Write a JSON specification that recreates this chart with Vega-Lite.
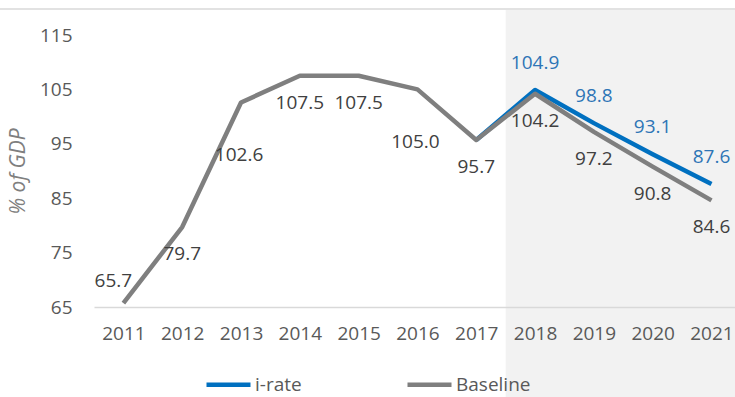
{
  "$schema": "https://vega.github.io/schema/vega-lite/v6.json",
  "width": 641,
  "height": 272,
  "autosize": {"type": "none"},
  "padding": {"left": 94, "top": 35, "right": 0, "bottom": 90},
  "background": "white",
  "config": {
    "font": "Open Sans",
    "view": {"stroke": null},
    "axisX": {"domainColor": "#d9d9d9", "domainWidth": 1.3, "ticks": false, "grid": false, "labelFontSize": 19, "labelColor": "#595959", "labelPadding": 17, "labelFlush": false},
    "axisY": {"domain": false, "ticks": false, "grid": false, "labelFontSize": 19, "labelColor": "#595959", "labelPadding": 22, "titleFontSize": 21, "titleFontStyle": "italic", "titleFontWeight": "normal", "titleColor": "#7f7f7f", "titlePadding": 11}
  },
  "datasets": {
    "series": [
      {"year": 2011, "series": "Baseline", "value": 65.7},
      {"year": 2012, "series": "Baseline", "value": 79.7},
      {"year": 2013, "series": "Baseline", "value": 102.6},
      {"year": 2014, "series": "Baseline", "value": 107.5},
      {"year": 2015, "series": "Baseline", "value": 107.5},
      {"year": 2016, "series": "Baseline", "value": 105.0},
      {"year": 2017, "series": "Baseline", "value": 95.7},
      {"year": 2018, "series": "Baseline", "value": 104.2},
      {"year": 2019, "series": "Baseline", "value": 97.2},
      {"year": 2020, "series": "Baseline", "value": 90.8},
      {"year": 2021, "series": "Baseline", "value": 84.6},
      {"year": 2017, "series": "i-rate", "value": 95.7},
      {"year": 2018, "series": "i-rate", "value": 104.9},
      {"year": 2019, "series": "i-rate", "value": 98.8},
      {"year": 2020, "series": "i-rate", "value": 93.1},
      {"year": 2021, "series": "i-rate", "value": 87.6}
    ],
    "shade": [{"year": 2017.5, "year_end": 2022, "value": 48, "value_end": 119.6}],
    "frame": [{"year": 2008.8, "year_end": 2022, "value": 119.8}]
  },
  "data": {"name": "series"},
  "encoding": {
    "x": {"field": "year", "type": "quantitative", "scale": {"domain": [2010.5, 2021.4], "nice": false, "zero": false}, "axis": {"values": [2011, 2012, 2013, 2014, 2015, 2016, 2017, 2018, 2019, 2020, 2021], "format": "d", "title": null, "zindex": 2}},
    "y": {"field": "value", "type": "quantitative", "scale": {"domain": [65, 115], "nice": false, "zero": false}, "axis": {"values": [65, 75, 85, 95, 105, 115], "title": "% of GDP", "zindex": 2}}
  },
  "layer": [
    {"data": {"name": "shade"}, "mark": {"type": "rect", "color": "#f2f2f2"}, "encoding": {"x2": {"field": "year_end"}, "y2": {"field": "value_end"}}},
    {"data": {"name": "frame"}, "mark": {"type": "rule", "color": "#d9d9d9", "strokeWidth": 1.5}, "encoding": {"x2": {"field": "year_end"}}},
    {
      "transform": [{"filter": "datum.series === 'i-rate'"}],
      "mark": {"type": "line", "strokeWidth": 4.5, "strokeJoin": "round"},
      "encoding": {"color": {"field": "series", "type": "nominal", "scale": {"domain": ["i-rate", "Baseline"], "range": ["#0070C0", "#7F7F7F"]},
        "legend": {"orient": "none", "legendX": 110, "legendY": 325, "direction": "horizontal", "title": null, "symbolType": "stroke", "symbolStrokeWidth": 4.5, "symbolSize": 1936, "labelFontSize": 19, "labelColor": "#595959", "columnPadding": 96, "labelOffset": 2, "zindex": 2}}}
    },
    {
      "transform": [{"filter": "datum.series === 'Baseline'"}],
      "mark": {"type": "line", "strokeWidth": 4.5, "strokeJoin": "round"},
      "encoding": {"color": {"field": "series", "type": "nominal"}}
    },
    {
      "transform": [{"filter": "datum.series === 'Baseline' && indexof([2012,2014,2015,2017,2018,2019,2020,2021], datum.year) >= 0"}],
      "mark": {"type": "text", "fontSize": 19, "color": "#404040", "baseline": "middle", "dy": 27},
      "encoding": {"text": {"field": "value", "type": "quantitative", "format": ".1f"}}
    },
    {
      "transform": [{"filter": "datum.series === 'Baseline' && indexof([2013,2016], datum.year) >= 0"}],
      "mark": {"type": "text", "fontSize": 19, "color": "#404040", "baseline": "middle", "dy": 53, "dx": -2},
      "encoding": {"text": {"field": "value", "type": "quantitative", "format": ".1f"}}
    },
    {
      "transform": [{"filter": "datum.series === 'Baseline' && datum.year === 2011"}],
      "mark": {"type": "text", "fontSize": 19, "color": "#404040", "baseline": "middle", "dy": -22, "dx": -10},
      "encoding": {"text": {"field": "value", "type": "quantitative", "format": ".1f"}}
    },
    {
      "transform": [{"filter": "datum.series === 'i-rate' && datum.year >= 2018"}],
      "mark": {"type": "text", "fontSize": 19, "color": "#2E75B6", "baseline": "middle", "dy": -27},
      "encoding": {"text": {"field": "value", "type": "quantitative", "format": ".1f"}}
    }
  ]
}
